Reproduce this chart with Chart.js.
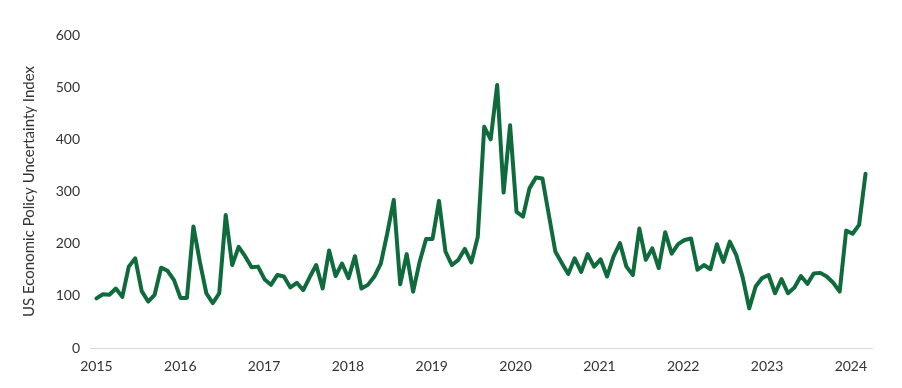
<!DOCTYPE html>
<html lang="en">
<head>
    <meta charset="UTF-8">
    <title>US Economic Policy Uncertainty Index</title>
    <style>
        html, body { margin: 0; padding: 0; background: #fff; }
        #wrap { width: 902px; height: 388px; }
    </style>
</head>
<body>
    <div id="wrap"><canvas id="chart" width="902" height="388"></canvas></div>

    <script src="https://cdn.jsdelivr.net/npm/chart.js"></script>
    <script>
        // year labels under the axis
        var years = [2015, 2016, 2017, 2018, 2019, 2020, 2021, 2022, 2023, 2024];

        // index values, one per point, left to right
        var epu = [
            95, 103, 102, 114, 98, 156, 172, 109, 89, 102, 154, 148,
            130, 96, 96, 233, 165, 105, 86, 105, 255, 159, 194, 176,
            155, 156, 132, 121, 140, 137, 116, 125, 111, 136, 159, 114,
            187, 138, 162, 134, 176, 114, 121, 137, 162, 220, 284, 122,
            180, 108, 165, 209, 209, 282, 185, 159, 169, 190, 164, 213,
            424, 400, 504, 298, 427, 261, 252, 306, 327, 325, 255, 185,
            163, 142, 172, 146, 180, 156, 170, 137, 175, 201, 156, 140,
            229, 169, 191, 153, 222, 181, 199, 207, 210, 150, 159, 151,
            199, 165, 204, 178, 135, 76, 118, 134, 140, 105, 132, 105,
            116, 138, 123, 143, 144, 137, 125, 108, 225, 219, 236, 334
        ];

        // y ticks
        var yTicks = [0, 100, 200, 300, 400, 500, 600];

        var yearStep = 12.97; // points between two year labels in the picture
        var textColor = '#333333';
        var font = "Lato, 'Open Sans', sans-serif";

        var points = epu.map(function(v, i) { return { x: i, y: v }; });

        new Chart(document.getElementById('chart'), {
            type: 'line',
            data: {
                datasets: [{
                    data: points,
                    borderColor: '#0f6b3b',
                    borderWidth: 4,
                    pointRadius: 0,
                    tension: 0,
                    borderJoinStyle: 'round',
                    borderCapStyle: 'round'
                }]
            },
            options: {
                responsive: false,
                animation: false,
                layout: { padding: { left: 0, right: 30, top: 35, bottom: 0 } },
                plugins: {
                    legend: { display: false },
                    tooltip: { enabled: false }
                },
                scales: {
                    x: {
                        type: 'linear',
                        min: -1,
                        max: epu.length,
                        grid: { display: false, drawTicks: false },
                        border: { display: true, color: '#d9d9d9', width: 1 },
                        afterBuildTicks: function(scale) {
                            scale.ticks = years.map(function(y, k) { return { value: k * yearStep }; });
                        },
                        afterFit: function(scale) { scale.height = 40; },
                        ticks: {
                            autoSkip: false,
                            maxRotation: 0,
                            padding: 10,
                            color: textColor,
                            font: { family: font, size: 14 },
                            callback: function(value, index) { return years[index]; }
                        }
                    },
                    y: {
                        min: 0,
                        max: 600,
                        grid: { display: false, drawTicks: false },
                        border: { display: false },
                        afterBuildTicks: function(scale) {
                            scale.ticks = yTicks.map(function(v) { return { value: v }; });
                        },
                        afterFit: function(scale) { scale.width = 90; },
                        ticks: {
                            padding: 10,
                            color: textColor,
                            font: { family: font, size: 14 }
                        },
                        title: {
                            display: true,
                            text: 'US Economic Policy Uncertainty Index',
                            color: textColor,
                            font: { family: font, size: 15 },
                            padding: { top: 20, bottom: 0 }
                        }
                    }
                }
            }
        });
    </script>
</body>
</html>
